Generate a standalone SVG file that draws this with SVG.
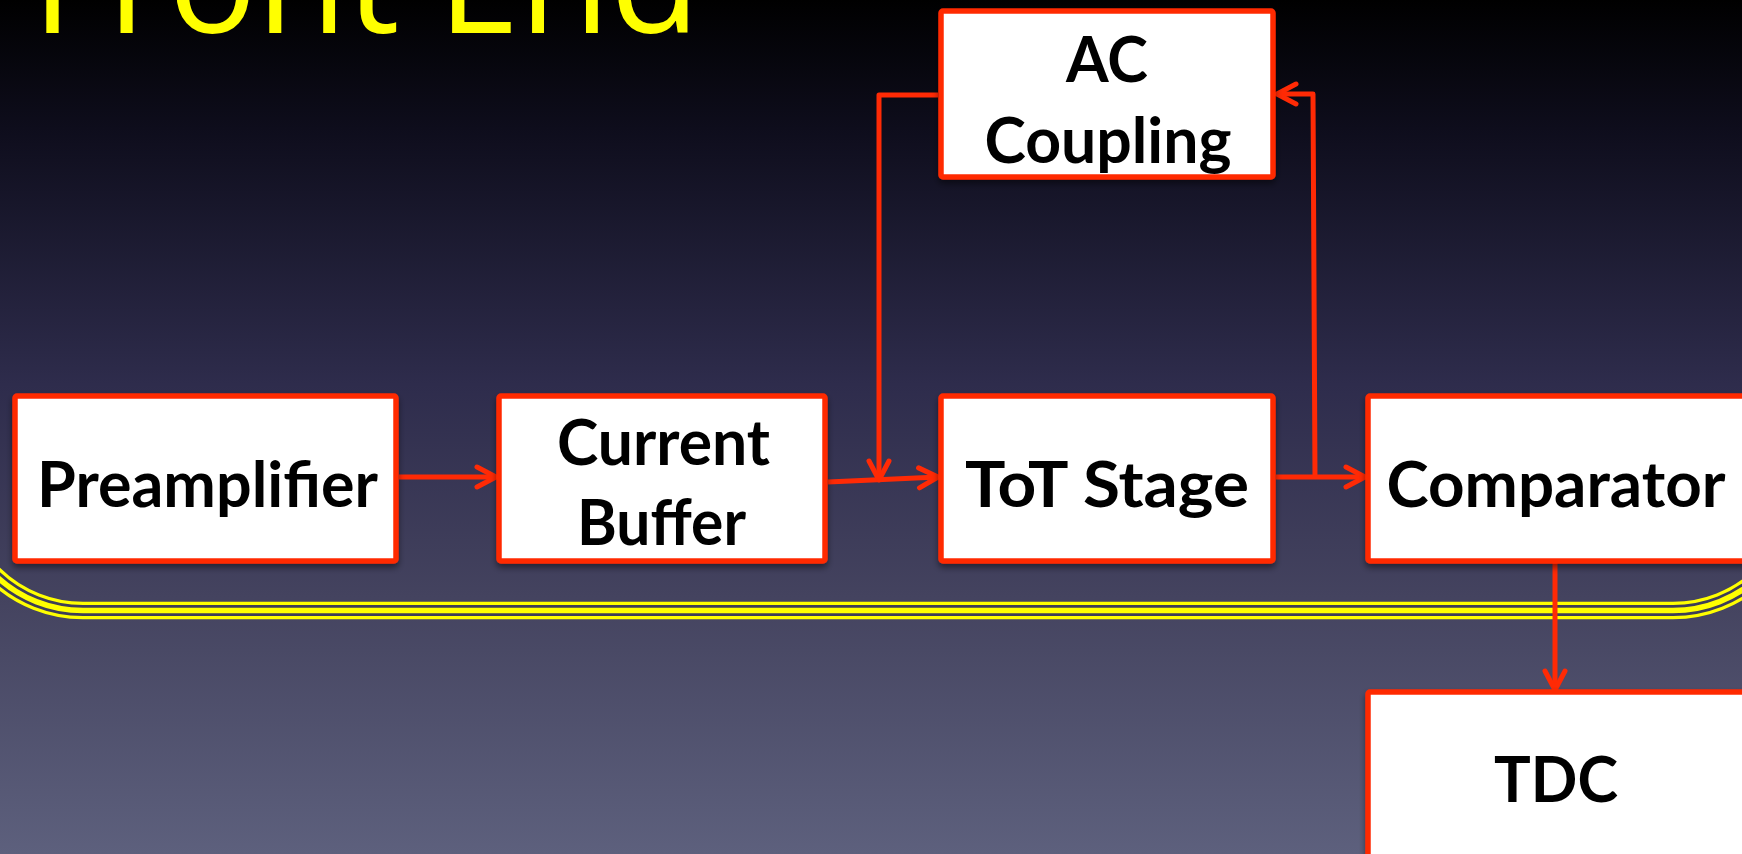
<svg xmlns="http://www.w3.org/2000/svg" width="1742" height="854" viewBox="0 0 1742 854">
  <style>
    .box { fill: #ffffff; stroke: #ff2a05; stroke-width: 5.5; filter: url(#shadow); }
    .lbl { font-family: Lato, "Liberation Sans", sans-serif; font-weight: 700; font-size: 64px; fill: #000000; text-anchor: middle; }
    .title { font-family: "Open Sans", "Liberation Sans", sans-serif; font-weight: 400; font-size: 150px; fill: #ffff00; }
    .wire { fill: none; stroke: #ff2a05; stroke-width: 5; stroke-linejoin: round; }
    .arrow { marker-end: url(#chev); }
  </style>
  <defs>
    <linearGradient id="bg" x1="0" y1="0" x2="0" y2="854" gradientUnits="userSpaceOnUse">
      <stop offset="0" stop-color="#000000"/>
      <stop offset="0.15" stop-color="#0e0d1c"/>
      <stop offset="0.45" stop-color="#2e2c4c"/>
      <stop offset="0.7" stop-color="#44435f"/>
      <stop offset="1" stop-color="#5d607d"/>
    </linearGradient>
    <filter id="shadow" x="-10%" y="-10%" width="120%" height="130%">
      <feDropShadow dx="0" dy="4" stdDeviation="3" flood-color="#000000" flood-opacity="0.45"/>
    </filter>
    <marker id="chev" markerUnits="userSpaceOnUse" viewBox="-24 -14 28 28" markerWidth="28" markerHeight="28" refX="0" refY="0" orient="auto">
      <path d="M-19,-10 L0,0 L-19,10" fill="none" stroke="#ff2a05" stroke-width="5" stroke-linecap="round" stroke-linejoin="round"/>
    </marker>
  </defs>

  <rect x="0" y="0" width="1742" height="854" fill="url(#bg)"/>

  <text class="title" x="32" y="33" textLength="668" lengthAdjust="spacingAndGlyphs">Front End</text>

  <g id="bracket">
    <path d="M -44,400 L -44,483.5 A 127 127 0 0 0 83,610.5 L 1673,610.5 A 127 127 0 0 0 1800,483.5 L 1800,400" fill="none" stroke="#ffff00" stroke-width="17.5"/>
    <path d="M -44,400 L -44,483.5 A 127 127 0 0 0 83,610.5 L 1673,610.5 A 127 127 0 0 0 1800,483.5 L 1800,400" fill="none" stroke="#3d3d58" stroke-width="11"/>
    <path d="M -44,400 L -44,483.5 A 127 127 0 0 0 83,610.5 L 1673,610.5 A 127 127 0 0 0 1800,483.5 L 1800,400" fill="none" stroke="#ffff00" stroke-width="5.5"/>
  </g>

  <g id="connectors">
    <path class="wire arrow" d="M399,477 L496,477"/>
    <path class="wire arrow" d="M828,482 L938,477"/>
    <path class="wire arrow" d="M938,95 L879,95 L879,480"/>
    <path class="wire arrow" d="M1276,477 L1365,477"/>
    <path class="wire arrow" d="M1315,477 L1313,94 L1277,94"/>
    <path class="wire arrow" d="M1555,563 L1555,690"/>
  </g>

  <g id="preamplifier">
    <rect class="box" x="15" y="396" width="381" height="165" rx="2"/>
    <text class="lbl" x="207.5" y="507" textLength="341" lengthAdjust="spacingAndGlyphs">Preamplifier</text>
  </g>
  <g id="current-buffer">
    <rect class="box" x="499" y="396" width="326" height="165" rx="2"/>
    <text class="lbl" x="663.5" y="465" textLength="213" lengthAdjust="spacingAndGlyphs">Current</text>
    <text class="lbl" x="661.5" y="545" textLength="169" lengthAdjust="spacingAndGlyphs">Buffer</text>
  </g>
  <g id="tot-stage">
    <rect class="box" x="941" y="396" width="332" height="165" rx="2"/>
    <text class="lbl" x="1107" y="507" textLength="284" lengthAdjust="spacingAndGlyphs">ToT Stage</text>
  </g>
  <g id="ac-coupling">
    <rect class="box" x="941" y="11" width="332" height="166" rx="2"/>
    <text class="lbl" x="1107" y="82" textLength="82" lengthAdjust="spacingAndGlyphs">AC</text>
    <text class="lbl" x="1108" y="163" textLength="247" lengthAdjust="spacingAndGlyphs">Coupling</text>
  </g>
  <g id="comparator">
    <rect class="box" x="1368" y="396" width="382" height="165" rx="2"/>
    <text class="lbl" x="1556" y="507" textLength="339" lengthAdjust="spacingAndGlyphs">Comparator</text>
  </g>
  <g id="tdc">
    <rect class="box" x="1368" y="692" width="382" height="200" rx="2"/>
    <text class="lbl" x="1556" y="802" textLength="124" lengthAdjust="spacingAndGlyphs">TDC</text>
  </g>
</svg>
